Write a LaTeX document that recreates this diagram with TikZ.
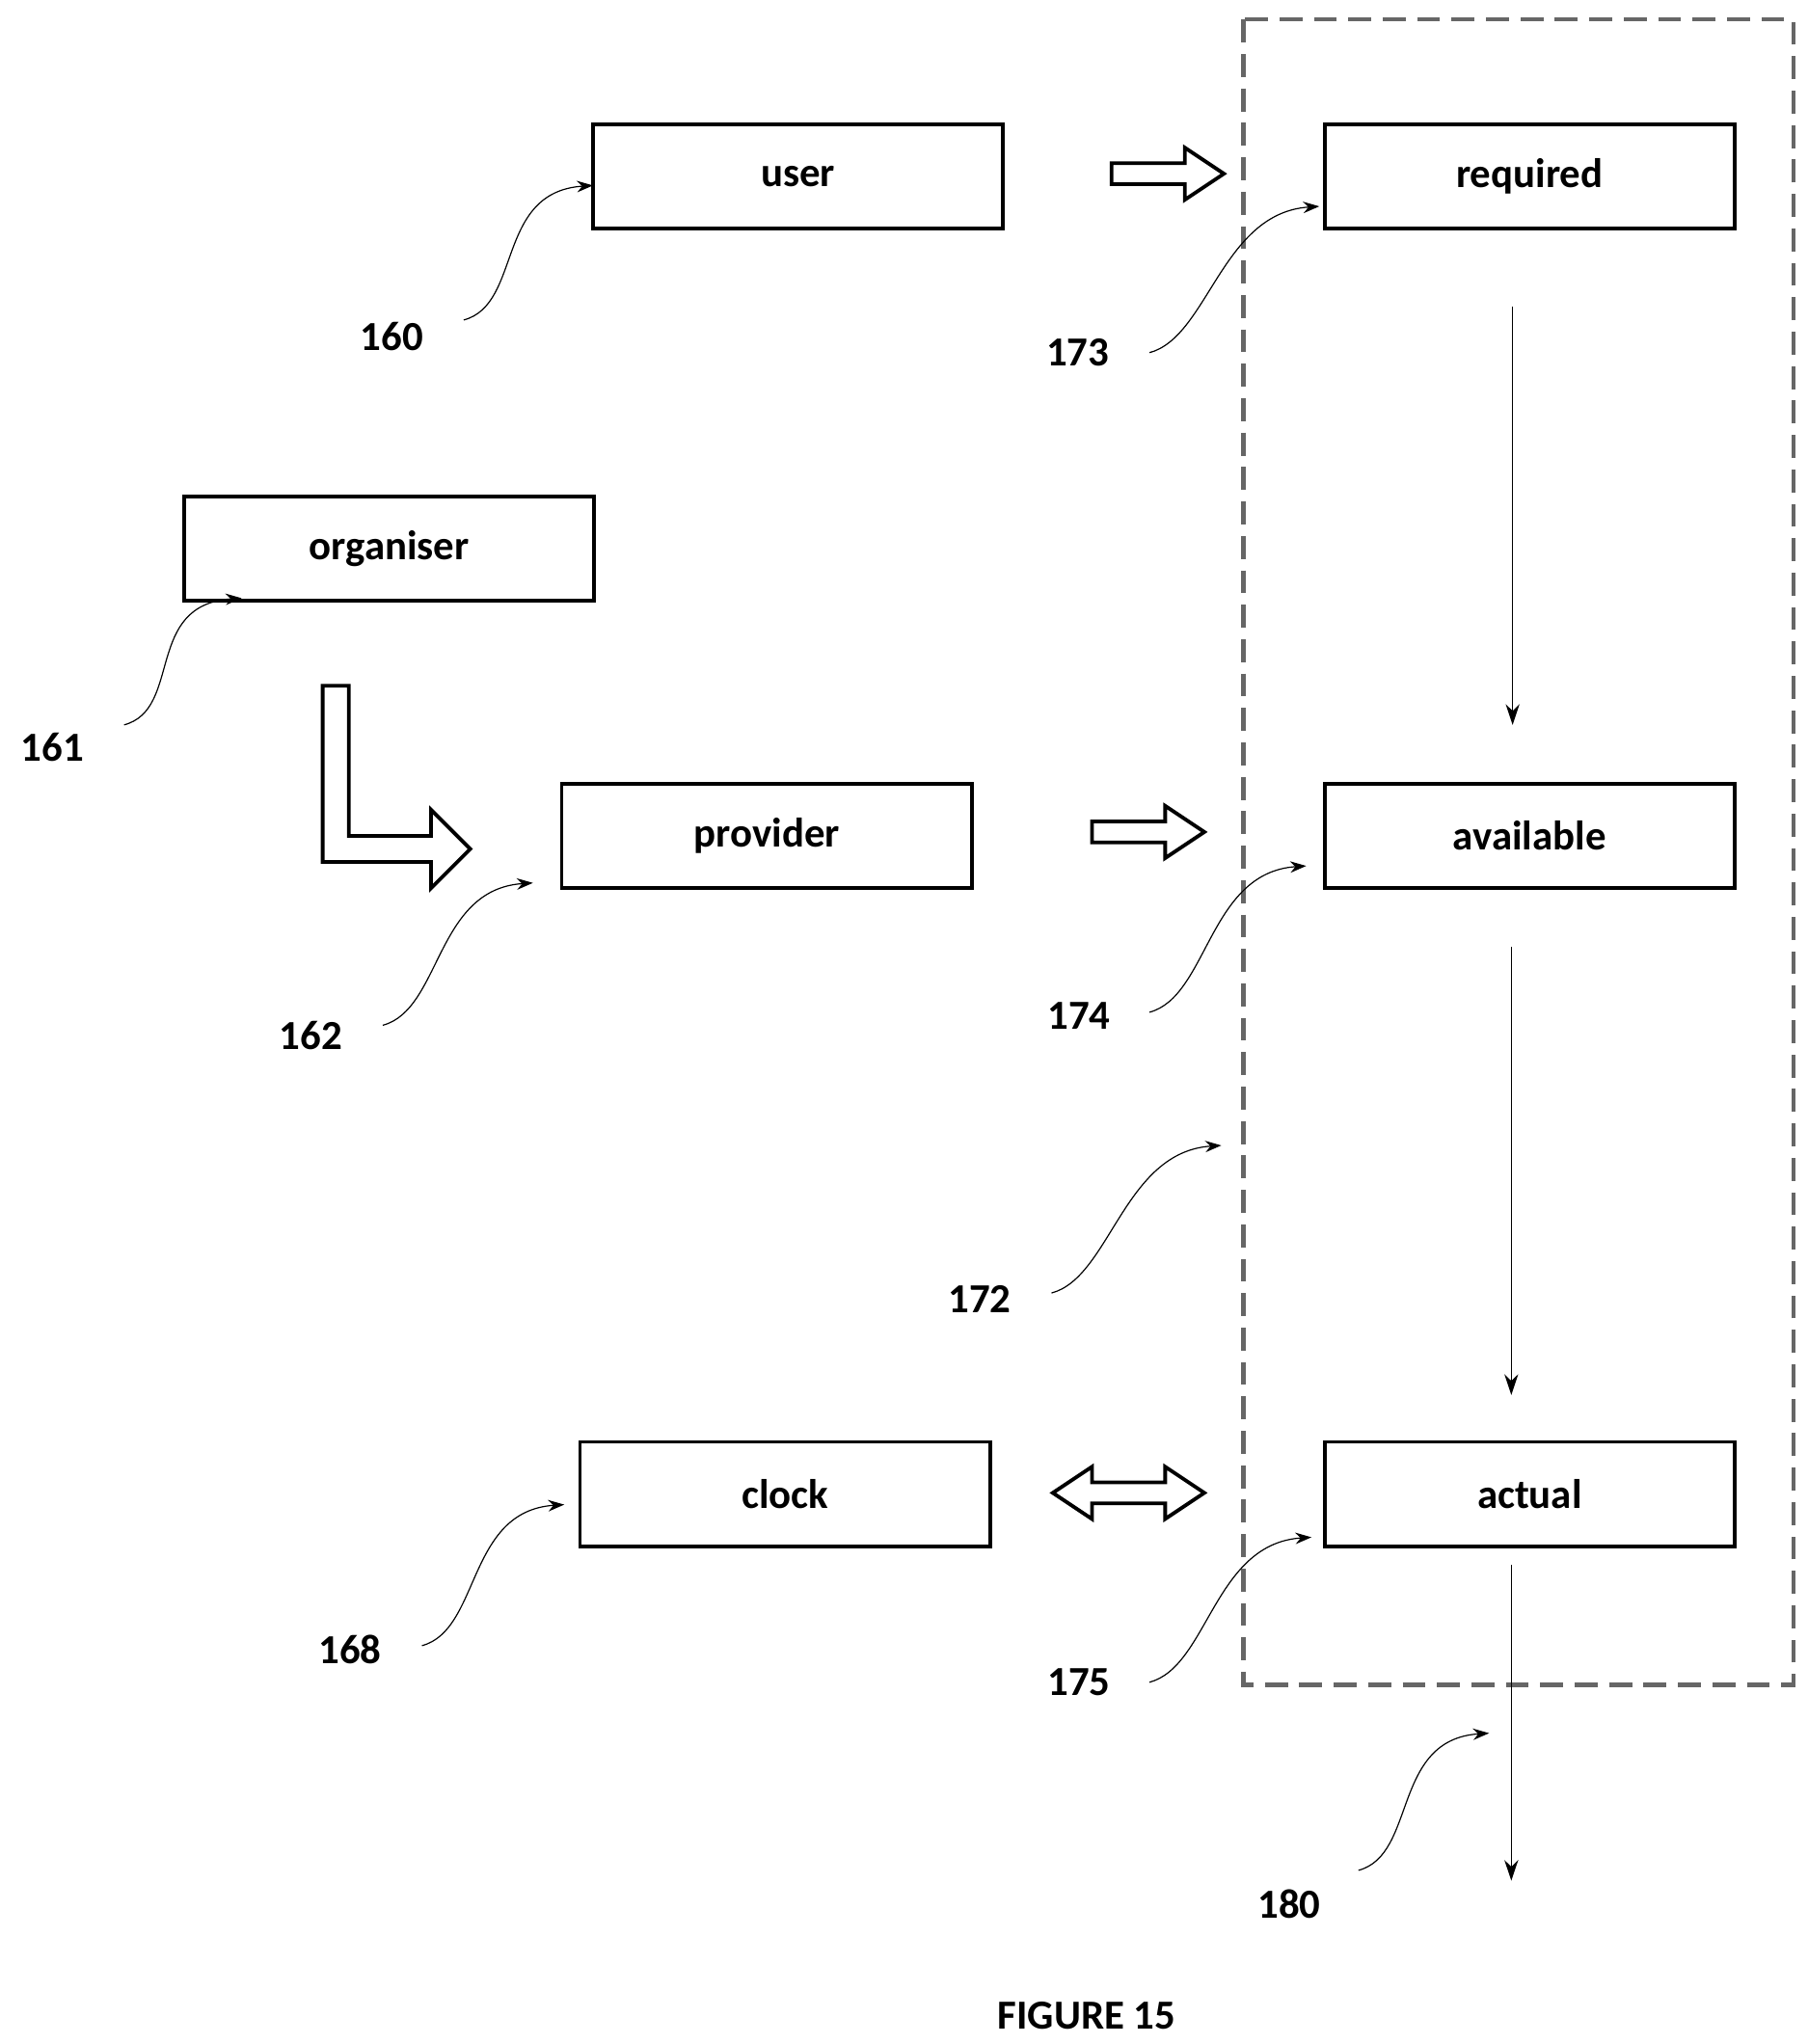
\documentclass[tikz,border=0pt]{standalone}
\usepackage{fontspec}
\setmainfont{Carlito}
\usetikzlibrary{arrows.meta}
\begin{document}
\begin{tikzpicture}[x=0.02cm,y=-0.02cm,
 box/.style={draw,line width=1.6pt,minimum width=6.28cm,minimum height=1.6cm,inner sep=0pt,font=\fontsize{18}{21}\selectfont\bfseries},
 lab/.style={font=\fontsize{18}{21}\selectfont\bfseries},
 lead/.style={-{Stealth[length=7pt,width=5pt]},line width=0.5pt},
 thin/.style={-{Stealth[length=9pt,width=6pt]},line width=0.6pt},
 hol/.style={draw,line width=1.6pt,fill=white}]
\useasboundingbox (0,0) rectangle (1384,1565);
\draw[line width=1.8pt,dash pattern=on 10pt off 5pt,color=black!60] (952,15) rectangle (1373,1290);
\node[box] (user) at (611,135) {user};
\node[box] (req) at (1171,135) {required};
\node[box] (org) at (298,420) {organiser};
\node[box] (prov) at (587,640) {provider};
\node[box] (avail) at (1171,640) {available};
\node[box] (clock) at (601,1144) {clock};
\node[box] (act) at (1171,1144) {actual};
% hollow arrows
\draw[hol] (851,125)--(907,125)--(907,113)--(937,133)--(907,153)--(907,141)--(851,141)--cycle;
\draw[hol] (836,629)--(892,629)--(892,617)--(922,637)--(892,657)--(892,645)--(836,645)--cycle;
\draw[hol] (806,1143)--(836,1123)--(836,1135)--(892,1135)--(892,1123)--(922,1143)--(892,1163)--(892,1151)--(836,1151)--(836,1163)--cycle;
\draw[hol] (247,525)--(267,525)--(267,640)--(330,640)--(330,620)--(360,650)--(330,680)--(330,660)--(247,660)--cycle;
% thin arrows
\coordinate (a1) at (1158,235); \coordinate (a2) at (1158,555);
\coordinate (b1) at (1157,725); \coordinate (b2) at (1157,1068);
\coordinate (c1) at (1157,1198); \coordinate (c2) at (1157,1440);
\draw[thin] (a1)--(a2); \draw[thin] (b1)--(b2); \draw[thin] (c1)--(c2);
% labels
\newcommand{\lbl}[5]{\node[lab] (#1) at (#2) {#3};\coordinate (#1s) at (#4);\coordinate (#1e) at (#5);
 \draw[lead] (#1s) .. controls +(45,-12) and +(-75,5) .. (#1e);}
\lbl{l160}{300,258}{160}{355,245}{454,142}
\lbl{l173}{825,270}{173}{880,270}{1010,158}
\lbl{l161}{40,572}{161}{95,555}{185,458}
\lbl{l162}{238,793}{162}{293,785}{408,676}
\lbl{l174}{826,778}{174}{880,775}{1000,663}
\lbl{l172}{750,995}{172}{805,990}{935,877}
\lbl{l168}{268,1263}{168}{323,1260}{432,1152}
\lbl{l175}{826,1288}{175}{880,1288}{1004,1177}
\lbl{l180}{987,1458}{180}{1040,1432}{1140,1327}
\node[lab] (fig) at (832,1543) {FIGURE 15};
\end{tikzpicture}
\end{document}
